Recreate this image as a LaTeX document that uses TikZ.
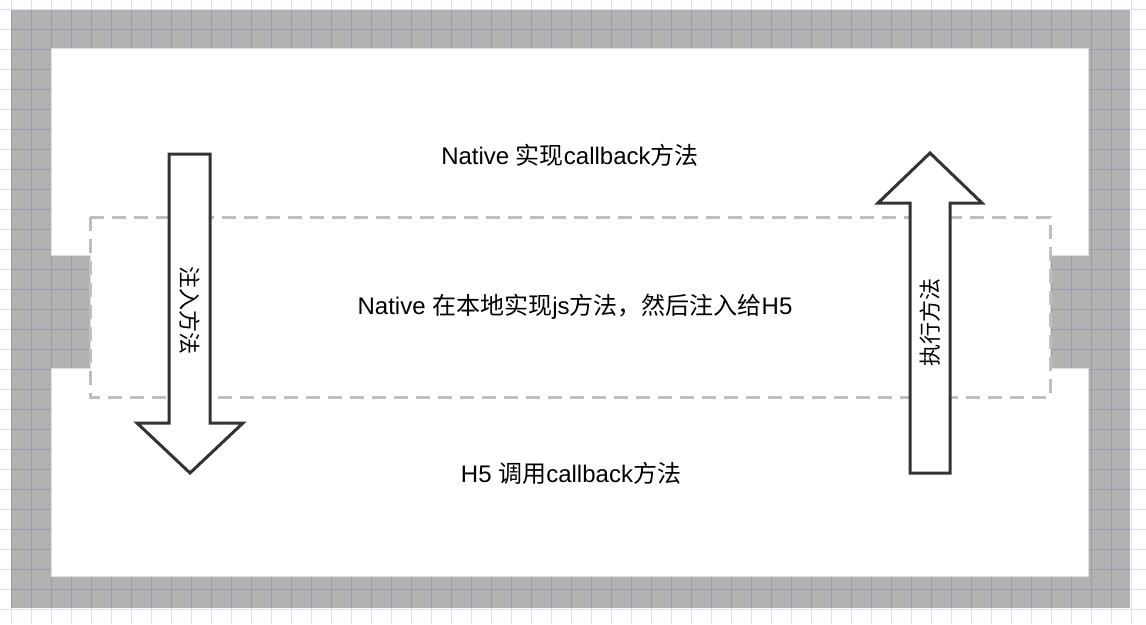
\documentclass[tikz,border=0pt]{standalone}
\usepackage{fontspec}
\setmainfont{Liberation Sans}
\newfontfamily\cjk{Noto Sans CJK SC}
\definecolor{gridc}{RGB}{222,222,250}
\definecolor{dashc}{RGB}{190,190,190}
\definecolor{arrowc}{RGB}{51,51,51}
\tikzset{
  gridline/.style={draw=gridc, line width=1pt},
  frame/.style={fill=black, fill opacity=0.3},
  innerarea/.style={fill=white, draw=black!12, line width=0.8pt},
  dashbox/.style={draw=dashc, line width=3pt, dash pattern=on 14pt off 8pt},
  bigarrow/.style={draw=arrowc, fill=white, line width=3pt, line join=miter},
  label/.style={font=\fontsize{24}{28}\selectfont, inner sep=0pt, text=black},
  vlabel/.style={font=\fontsize{22}{26}\selectfont\cjk, inner sep=0pt, text=black}
}
\begin{document}
\begin{tikzpicture}[x=1pt,y=-1pt]
\useasboundingbox (0,0) rectangle (1146,624);
\fill[white] (0,0) rectangle (1146,624);
% background grid
\foreach \gx in {11,31,...,1146} \draw[gridline] (\gx,0) -- (\gx,624);
\foreach \gy in {9.5,29.5,...,624} \draw[gridline] (0,\gy) -- (1146,\gy);
% gray frame
\fill[frame] (11,10) rectangle (1130,608);
% white inner area with notches
\path[innerarea] (51,48) -- (1088,48) -- (1088,255) -- (1050,255) -- (1050,368)
  -- (1088,368) -- (1088,576) -- (51,576) -- (51,368) -- (90,368) -- (90,255)
  -- (51,255) -- cycle;
% dashed box
\draw[dashbox] (90,217) rectangle (1050,397);
% down arrow
\path[bigarrow] (169,154) -- (210,154) -- (210,423) -- (243,423) -- (190,473)
  -- (137,423) -- (169,423) -- cycle;
% up arrow
\path[bigarrow] (910,473) -- (950,473) -- (950,203) -- (982,203) -- (930,153)
  -- (878,203) -- (910,203) -- cycle;
% labels
\node[label] (top) at (570,155) {Native {\cjk 实现}callback{\cjk 方法}};
\node[label] (mid) at (575,307) {Native {\cjk 在本地实现}js{\cjk 方法，然后注入给}H5};
\node[label] (bot) at (571,473) {H5 {\cjk 调用}callback{\cjk 方法}};
\node[vlabel, rotate=-90] (inject) at (190,310) {注入方法};
\node[vlabel, rotate=90] (exec) at (930,322) {执行方法};
\end{tikzpicture}
\end{document}
